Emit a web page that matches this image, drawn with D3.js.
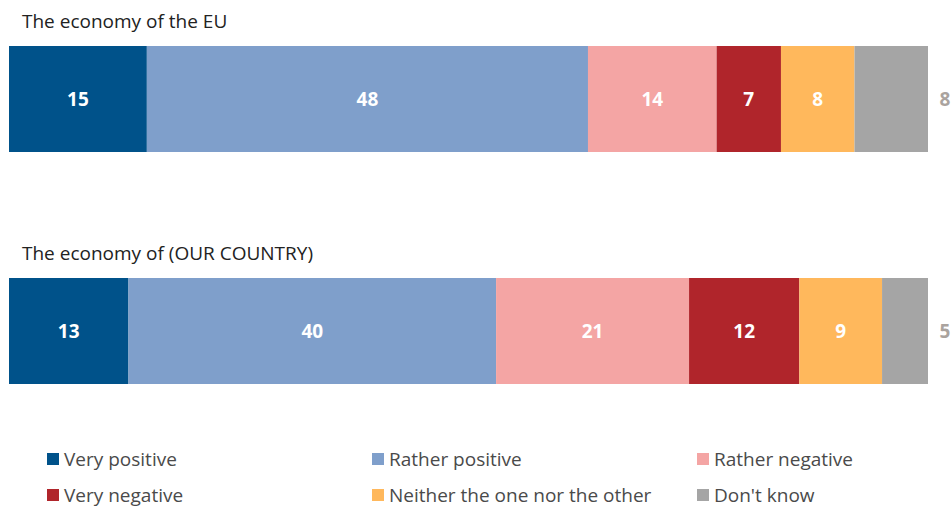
<!DOCTYPE html>
<html>
<head>
<meta charset="utf-8">
<script src="https://d3js.org/d3.v7.min.js"></script>
<style>
  body { margin: 0; background: white; }
  svg { display: block; }
</style>
</head>
<body>
<svg id="chart" width="952" height="509"></svg>
<script>
var items = ["The economy of the EU", "The economy of (OUR COUNTRY)"]
var answers = ["Very positive", "Rather positive", "Rather negative", "Very negative", "Neither the one nor the other", "Don't know"]
var colors = ["#00528a", "#7f9fcb", "#f4a5a4", "#b0252b", "#ffb85c", "#a5a5a5"]
var euValues = [15, 48, 14, 7, 8, 8]
var countryValues = [13, 40, 21, 12, 9, 5]
var values = [euValues, countryValues]

var svg = d3.select("#chart")
var font = "'Open Sans', 'DejaVu Sans', sans-serif"

var x = d3.scaleLinear().domain([0, 100]).range([9, 928])
var barTop = d3.scaleOrdinal().domain(items).range([46, 278])
var barHeight = 106

items.forEach(function(item, i) {
  var y0 = barTop(item)
  var row = values[i]
  var cum = d3.cumsum(row)
  var segs = row.map(function(v, j) { return { v: v, start: cum[j] - v, end: cum[j], j: j } })

  svg.append("text")
    .attr("x", 22)
    .attr("y", y0 - 18)
    .attr("font-family", font)
    .attr("font-size", 19)
    .attr("fill", "#222")
    .text(item)

  var g = svg.append("g")
  g.selectAll("rect")
    .data(segs)
    .enter().append("rect")
    .attr("x", d => x(d.start))
    .attr("y", y0)
    .attr("width", d => x(d.end) - x(d.start))
    .attr("height", barHeight)
    .attr("fill", d => colors[d.j])

  g.selectAll("text")
    .data(segs)
    .enter().append("text")
    .attr("x", d => d.j == 5 ? x(100) + 17 : (x(d.start) + x(d.end)) / 2)
    .attr("y", y0 + barHeight / 2)
    .attr("text-anchor", "middle")
    .attr("dominant-baseline", "central")
    .attr("font-family", font)
    .attr("font-weight", "bold")
    .attr("font-size", 19)
    .attr("fill", d => d.j == 5 ? "#aaa39e" : "white")
    .text(d => d.v)
})

// legend
var legendX = d3.scaleOrdinal().domain([0, 1, 2]).range([47, 372, 697])
var legendY = d3.scaleOrdinal().domain([0, 1]).range([459, 495])
var legend = svg.append("g")
answers.forEach(function(a, i) {
  var lx = legendX(i % 3)
  var ly = legendY(Math.floor(i / 3))
  legend.append("rect")
    .attr("x", lx)
    .attr("y", ly - 6)
    .attr("width", 12)
    .attr("height", 12)
    .attr("fill", colors[i])
  legend.append("text")
    .attr("x", lx + 17)
    .attr("y", ly)
    .attr("dominant-baseline", "central")
    .attr("font-family", font)
    .attr("font-size", 19)
    .attr("fill", "#4a4a4a")
    .text(a)
})
</script>
</body>
</html>
